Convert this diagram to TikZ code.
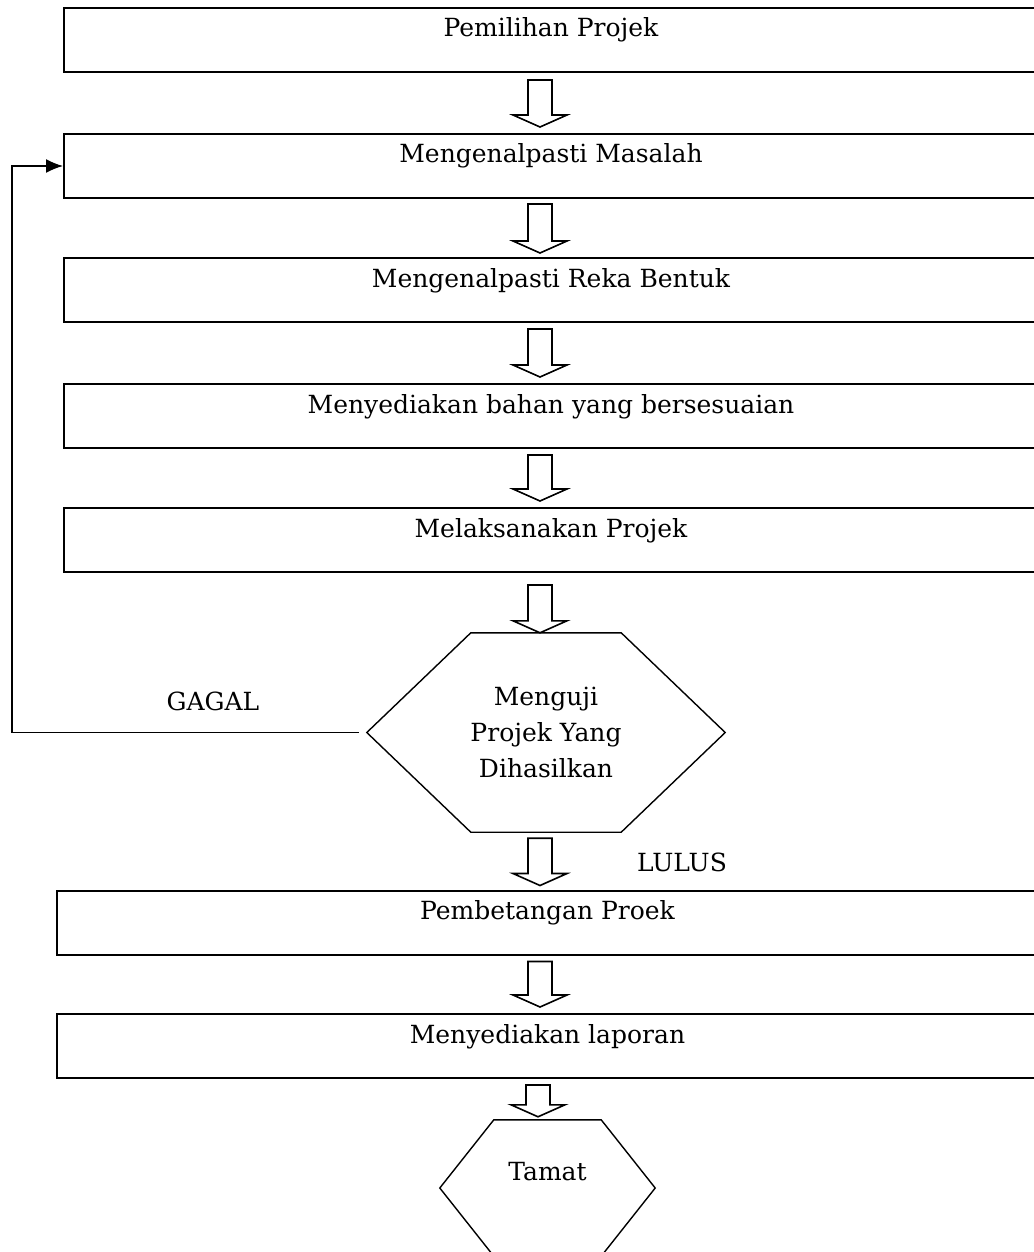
\documentclass[tikz,border=0pt]{standalone}
\usepackage{fontspec}
\setmainfont{DejaVu Serif}
\usetikzlibrary{arrows.meta,calc,positioning}

\tikzset{
  langkah/.style={draw,line width=2pt,minimum width=974pt,minimum height=64pt,
    inner sep=0pt,text height=18pt,text depth=24pt},
  heks/.style={inner sep=0pt,align=center},
  fat/.style={line width=1.6pt,to path={let \p1=(\tikztostart),\p2=(\tikztotarget) in
    (\x1-12pt,\y1) -- (\x1-12pt,\y2+12pt) -- (\x1-27pt,\y2+12pt) -- (\x1,\y2)
    -- (\x1+27pt,\y2+12pt) -- (\x1+12pt,\y2+12pt) -- (\x1+12pt,\y1) -- cycle}}
}

\begin{document}
\begin{tikzpicture}[x=1pt,y=1pt,font=\fontsize{25pt}{36pt}\selectfont]
\useasboundingbox (0,0) rectangle (1033,-1252);

% langkah kerja
\node[langkah] (b1) at (551,-40) {Pemilihan Projek};
\node[langkah] (b2) at (551,-166) {Mengenalpasti Masalah};
\node[langkah] (b3) at (551,-290) {Mengenalpasti Reka Bentuk};
\node[langkah] (b4) at (551,-416) {Menyediakan bahan yang bersesuaian};
\node[langkah] (b5) at (551,-540) {Melaksanakan Projek};
\node[langkah,minimum width=981pt] (b6) at (547.5,-922.5) {Pembetangan Proek};
\node[langkah,minimum width=981pt] (b7) at (547.5,-1046) {Menyediakan laporan};

% ujian dan tamat
\node[heks,minimum width=358pt,minimum height=199pt] (uji) at (546,-732.5)
  {Menguji\\Projek Yang\\Dihasilkan};
\draw[line width=1.4pt] (uji.west) -- ([xshift=104pt]uji.north west)
  -- ([xshift=-104pt]uji.north east) -- (uji.east)
  -- ([xshift=-104pt]uji.south east) -- ([xshift=104pt]uji.south west) -- cycle;

\node[heks,minimum width=215pt,minimum height=136pt,text height=18pt,text depth=33pt]
  (tamat) at (547.5,-1188) {Tamat};
\draw[line width=1.4pt] (tamat.west) -- ([xshift=54pt]tamat.north west)
  -- ([xshift=-54pt]tamat.north east) -- (tamat.east)
  -- ([xshift=-54pt]tamat.south east) -- ([xshift=54pt]tamat.south west) -- cycle;

% anak panah
\coordinate (paksi) at (540,0);
\draw[fat] ($(b1.south -| paksi)+(0,-7)$) to ($(b2.north -| paksi)+(0,6)$);
\draw[fat] ($(b2.south -| paksi)+(0,-5)$) to ($(b3.north -| paksi)+(0,4)$);
\draw[fat] ($(b3.south -| paksi)+(0,-6)$) to ($(b4.north -| paksi)+(0,6)$);
\draw[fat] ($(b4.south -| paksi)+(0,-6)$) to ($(b5.north -| paksi)+(0,6)$);
\draw[fat] ($(b5.south -| paksi)+(0,-12)$) to (uji.north -| paksi);
\draw[fat] ($(uji.south -| paksi)+(0,-6)$) to ($(b6.north -| paksi)+(0,4)$);
\draw[fat] ($(b6.south -| paksi)+(0,-6)$) to ($(b7.north -| paksi)+(0,6)$);
\draw[fat] ($(b7.south -| paksi)+(-2,-6)$) to ($(tamat.north -| paksi)+(-2,3)$);

% gagal: balik semula
\draw[line width=1.5pt,-{Latex[length=17pt,width=14pt]}]
  ([xshift=-8pt]uji.west) -- ++(-347,0) |- (b2.west);
\node (gagal) at (213,-701) {GAGAL};
\node (lulus) at (682,-862) {LULUS};
\end{tikzpicture}
\end{document}
